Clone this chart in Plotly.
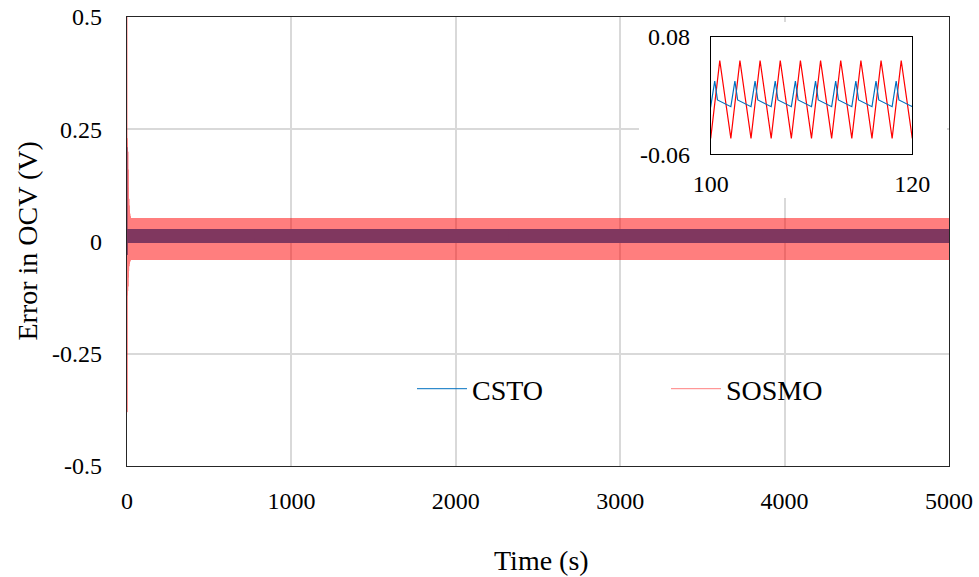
import numpy as np
import plotly.graph_objects as go

# ---------------- data ----------------
T_END = 5000.0          # s, end of the simulation
PERIOD = 2.0            # s, steady-state oscillation period

# CSTO: short start-up transient, then a repeating saw-tooth (one period)
csto_trans_t = [0.0, 0.4, 0.8, 1.2, 1.6]
csto_trans_v = [0.21, 0.09, -0.03, 0.02, 0.005]
csto_period_t = [0.0, 0.4, 0.67]            # offsets inside one period
csto_period_v = [-0.0033, 0.0273, 0.0047]
csto_steady_start = 2.0

# SOSMO: large start-up transient, then a repeating triangle wave (one period)
sosmo_trans_t = [0.0, 0.5, 1, 2, 3, 4, 5, 6, 7, 8, 9, 10, 11, 12, 13, 14, 15,
                 16, 17, 18, 19, 20, 21, 22, 23]
sosmo_trans_v = [0.62, -0.38, 0.23, -0.12, 0.22, -0.11, 0.20, -0.10, 0.16, -0.08,
                 0.12, -0.065, 0.095, -0.055, 0.08, -0.05, 0.07, -0.046, 0.062,
                 -0.044, 0.057, -0.042, 0.054, -0.041, 0.052]
sosmo_period_t = [0.0, 0.9]
sosmo_period_v = [-0.041, 0.0515]
sosmo_steady_start = 24.0

series_names = ["CSTO", "SOSMO"]

x_tickvals = [0, 1000, 2000, 3000, 4000, 5000]
x_ticktext = ["0", "1000", "2000", "3000", "4000", "5000"]
y_tickvals = [-0.5, -0.25, 0, 0.25, 0.5]
y_ticktext = ["-0.5", "-0.25", "0", "0.25", "0.5"]
inset_x_tickvals = [100, 120]
inset_x_ticktext = ["100", "120"]
inset_y_tickvals = [-0.06, 0.08]
inset_y_ticktext = ["-0.06", "0.08"]


def build(trans_t, trans_v, per_t, per_v, start):
    starts = np.arange(start, T_END, PERIOD)
    t = (starts[:, None] + np.asarray(per_t)[None, :]).ravel()
    v = np.tile(np.asarray(per_v), len(starts))
    t = np.concatenate([np.asarray(trans_t, float), t, [T_END]])
    v = np.concatenate([np.asarray(trans_v, float), v, [per_v[0]]])
    m = t <= T_END
    return t[m], v[m]


csto_t, csto_v = build(csto_trans_t, csto_trans_v, csto_period_t, csto_period_v, csto_steady_start)
sosmo_t, sosmo_v = build(sosmo_trans_t, sosmo_trans_v, sosmo_period_t, sosmo_period_v, sosmo_steady_start)

BLUE = "#0070C0"
RED = "#FF0000"
FONT = "Liberation Serif, Times New Roman, serif"

fig = go.Figure()
# main plot
fig.add_trace(go.Scatter(x=csto_t, y=csto_v, mode="lines", name=series_names[0],
                         line=dict(color=BLUE, width=1, simplify=False),
                         legend="legend", xaxis="x", yaxis="y"))
fig.add_trace(go.Scatter(x=sosmo_t, y=sosmo_v, mode="lines", name=series_names[1],
                         line=dict(color=RED, width=1, simplify=False), opacity=0.5,
                         legend="legend2", xaxis="x", yaxis="y"))
# inset (zoom of 100-120 s)
fig.add_trace(go.Scatter(x=sosmo_t, y=sosmo_v, mode="lines", showlegend=False,
                         line=dict(color=RED, width=1.2, simplify=False),
                         xaxis="x2", yaxis="y2"))
fig.add_trace(go.Scatter(x=csto_t, y=csto_v, mode="lines", showlegend=False,
                         line=dict(color=BLUE, width=1.2, simplify=False),
                         xaxis="x2", yaxis="y2"))

L, R, T, B = 127, 30, 17, 111
W, H = 979, 577
pw, ph = W - L - R, H - T - B
X0, X1, Y0, Y1 = 0, 5000, -0.5, 0.5


def px_x(px):
    return (px - L) / pw


def px_y(py):
    return (H - B - py) / ph


def data_x(px):
    return X0 + px_x(px) * (X1 - X0)


def data_y(py):
    return Y0 + px_y(py) * (Y1 - Y0)


tickfont = dict(family=FONT, size=24, color="black")
axis_common = dict(showline=True, linecolor="#262626", linewidth=1.2, mirror=True,
                   zeroline=False, ticks="", tickfont=tickfont)

fig.update_layout(
    width=W, height=H,
    margin=dict(l=L, r=R, t=T, b=B, autoexpand=False),
    paper_bgcolor="white", plot_bgcolor="white",
    font=dict(family=FONT, color="black"),
    xaxis=dict(range=[X0, X1], tickvals=x_tickvals, ticktext=x_ticktext,
               showgrid=True, gridcolor="#D9D9D9", gridwidth=1.5,
               ticklabelstandoff=13, **axis_common),
    yaxis=dict(range=[Y0, Y1], tickvals=y_tickvals, ticktext=y_ticktext,
               showgrid=True, gridcolor="#D9D9D9", gridwidth=1.5,
               ticklabelstandoff=19, **axis_common),
    xaxis2=dict(domain=[px_x(710.7), px_x(912.3)], anchor="y2", range=[100, 120],
                tickvals=inset_x_tickvals, ticktext=inset_x_ticktext,
                showgrid=False, showline=True, mirror=True, linecolor="black", linewidth=1,
                zeroline=False, ticks="", ticklabelstandoff=8, tickfont=tickfont),
    yaxis2=dict(domain=[px_y(154.3), px_y(36.7)], anchor="x2", range=[-0.06, 0.08],
                tickvals=inset_y_tickvals, ticktext=inset_y_ticktext,
                showgrid=False, showline=True, mirror=True, linecolor="black", linewidth=1,
                zeroline=False, ticks="", ticklabelstandoff=15, tickfont=tickfont),
    legend=dict(orientation="h", x=px_x(412), y=px_y(389), xanchor="left", yanchor="middle",
                bgcolor="rgba(0,0,0,0)", font=dict(family=FONT, size=28, color="black"),
                itemwidth=50),
    legend2=dict(orientation="h", x=px_x(666), y=px_y(389), xanchor="left", yanchor="middle",
                 bgcolor="rgba(0,0,0,0)", font=dict(family=FONT, size=28, color="black"),
                 itemwidth=50),
    shapes=[dict(type="rect", xref="x", yref="y",
                 x0=data_x(639), x1=data_x(947), y0=data_y(198), y1=data_y(22),
                 fillcolor="white", line=dict(width=0), layer="between")],
    annotations=[
        dict(text="Error in OCV (V)", xref="paper", yref="paper", x=px_x(27), y=0.5,
             xanchor="center", yanchor="middle", textangle=-90, showarrow=False,
             font=dict(family=FONT, size=28, color="black")),
        dict(text="Time (s)", xref="paper", yref="paper", x=px_x(541), y=px_y(560),
             xanchor="center", yanchor="middle", showarrow=False,
             font=dict(family=FONT, size=28, color="black")),
    ],
)

fig.write_html("out.html")
